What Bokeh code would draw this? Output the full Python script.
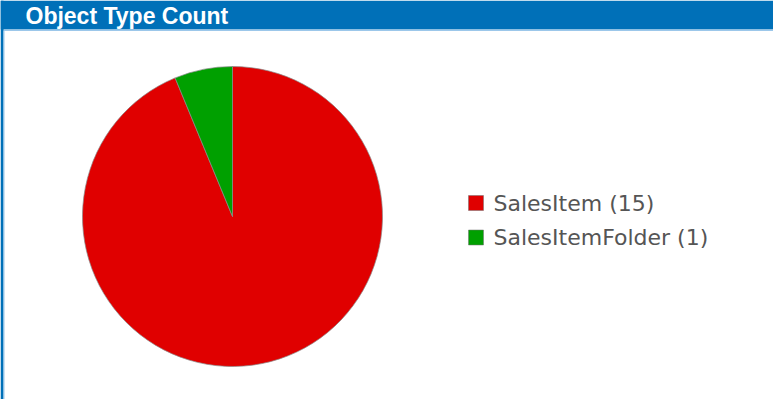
import numpy as np
from bokeh.plotting import figure
from bokeh.models import Range1d, BoxAnnotation, Label, ColumnDataSource
from bokeh.core.properties import value
from bokeh.embed import file_html
from bokeh.resources import INLINE

# ---- data ----
title_text = "Object Type Count"
categories = ["SalesItem", "SalesItemFolder"]
counts = [15, 1]
colors = ["#E00000", "#00A000"]

# ---- layout (pixels) ----
W, H = 773, 399
HEADER_H = 29
BLUE = "#0070B8"
LIGHT = "#9CC7EA"
CX, CY, R = 232, 183, 150
LEG_X, LEG_Y0, LEG_DY = 475.5, 196.5, 34.5

vals = np.array(counts, dtype=float)
frac = vals / vals.sum()
cum_after = np.cumsum(frac)
cum_before = cum_after - frac
start = np.pi / 2 - 2 * np.pi * cum_before
end = np.pi / 2 - 2 * np.pi * cum_after

labels = [f"{c} ({n})" for c, n in zip(categories, counts)]
idx = np.arange(len(categories))
src = ColumnDataSource(dict(
    cat=categories, start=start, end=end, color=colors, label=labels,
    lx=[LEG_X] * len(categories), ly=list(LEG_Y0 - LEG_DY * idx),
    tx=[LEG_X + 17.5] * len(categories),
))

p = figure(width=W, height=H, output_backend="svg", toolbar_location=None,
           x_range=Range1d(0, W), y_range=Range1d(0, H), min_border=0,
           x_axis_location=None, y_axis_location=None)
p.grid.visible = False
p.outline_line_color = None
p.background_fill_color = "white"
p.border_fill_color = "white"

# header and frame
p.add_layout(BoxAnnotation(left=0, right=W, bottom=H - HEADER_H, top=H,
                           fill_color=BLUE, fill_alpha=1, line_color=None))
p.add_layout(BoxAnnotation(left=3, right=W, bottom=H - HEADER_H - 1.5, top=H - HEADER_H,
                           fill_color=LIGHT, fill_alpha=1, line_color=None))
p.add_layout(BoxAnnotation(left=0, right=3, bottom=0, top=H,
                           fill_color=BLUE, fill_alpha=1, line_color=None))
p.add_layout(BoxAnnotation(left=3, right=4, bottom=0, top=H - HEADER_H - 1.5,
                           fill_color=LIGHT, fill_alpha=1, line_color=None))

p.add_layout(Label(x=25, y=H - 15.5, text=title_text, text_color="white",
                   text_font="Liberation Sans", text_font_style="bold",
                   text_font_size="23px", text_baseline="middle"))

# pie
p.wedge(x=CX, y=CY, radius=R, start_angle="start", end_angle="end",
        direction="clock", fill_color="color", line_color="#8a8a8a",
        line_width=1, line_alpha=0.7, source=src)

# legend
p.rect(x="lx", y="ly", width=15, height=15, fill_color="color",
       line_color="#707070", line_alpha=0.5, line_width=1, source=src)
p.text(x="tx", y="ly", text="label", text_color="#555555",
       text_font=value("DejaVu Sans"), text_font_size="22px",
       text_baseline="middle", text_align="left", source=src)

open("out.html", "w").write(file_html(p, INLINE))
